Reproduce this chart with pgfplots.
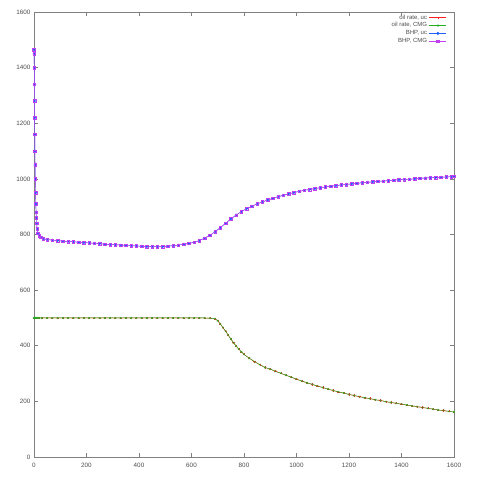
\documentclass[border=0pt]{standalone}
\usepackage{pgfplots}
\usepackage{pgfplotstable}
\usepackage{fontspec}
\setmainfont{Liberation Sans}
\pgfplotsset{compat=1.18}
\definecolor{gred}{HTML}{FF2020}
\definecolor{ggreen}{HTML}{20B020}
\definecolor{gblue}{HTML}{2060FF}
\definecolor{gmag}{HTML}{C040F0}
\definecolor{frame}{HTML}{808080}
\pgfplotstableread{
x y
0 1465
0.5 1450
1 1400
1.5 1340
2 1280
2.5 1220
3 1160
3.5 1100
4 1050
5 1000
6 950
7 910
8 880
9 860
10 840
12 820
15 805
20 795
25 790
35 785
50 782
70 780
90 778
110 776
130 775
150 774
170 772
190 771
210 770
230 768
250 767
270 765
290 764
310 763
330 762
350 761
370 760
390 759
410 758
430 757
450 757
470 756
490 757
510 758
530 760
550 762
570 765
590 768
610 772
630 778
650 787
670 797
690 810
710 825
730 840
750 856
770 870
790 882
810 893
830 902
850 910
870 917
890 924
910 930
930 936
950 941
970 946
990 951
1010 955
1030 959
1050 962
1070 965
1090 968
1110 971
1130 973
1150 976
1170 978
1190 980
1210 982
1230 984
1250 986
1270 988
1290 989
1310 991
1330 992
1350 994
1370 995
1390 997
1410 998
1430 999
1450 1000
1470 1002
1490 1003
1510 1004
1530 1005
1550 1006
1570 1007
1590 1008
1600 1009
}\bhp
\pgfplotstableread{
x y
0 500
1 500
2 500
3 500
5 500
7 500
10 500
15 500
20 500
30 500
50 500
70 500
90 500
110 500
130 500
150 500
170 500
190 500
210 500
230 500
250 500
270 500
290 500
310 500
330 500
350 500
370 500
390 500
410 500
430 500
450 500
470 500
490 500
510 500
530 500
550 500
570 500
590 500
610 500
630 500
650 500
670 499
690 497
700 490
710 478
720 465
730 452
740 438
750 424
760 411
770 399
780 388
790 378
800 369
820 355
840 343
860 332
880 322
900 316
920 308
940 301
960 294
980 287
1000 280
1020 273
1040 267
1060 261
1080 255
1100 250
1120 244
1140 239
1160 234
1180 230
1200 225
1220 221
1240 217
1260 213
1280 210
1300 206
1320 203
1340 199
1360 196
1380 193
1400 190
1420 187
1440 184
1460 181
1480 178
1500 175
1520 172
1540 169
1560 167
1580 164
1600 162
}\oil
\begin{document}
\begin{tikzpicture}
\begin{axis}[name=ax,
  scale only axis, width=420pt, height=445pt,
  xmin=0, xmax=1600, ymin=0, ymax=1600,
  xtick={0,200,...,1600}, ytick={0,200,...,1600},
  tick align=inside, major tick length=4pt,
  axis line style={frame, line width=0.5pt},
  every tick/.style={frame, line width=0.5pt},
  tick label style={font=\fontsize{6.3}{7}\selectfont, text=black!70},
  xticklabel style={yshift=-2.5pt},
  /pgf/number format/assume math mode=true,
  /pgf/number format/1000 sep={},
  scaled ticks=false,
  legend style={draw=none, fill=none, at={(rel axis cs:1,1)}, anchor=north east,
    xshift=-6pt, yshift=0.5pt, font=\fontsize{6}{6.5}\selectfont, text=black!70,
    row sep=-1.9pt, inner sep=1pt},
  legend cell align=right, legend plot pos=right,
  legend image post style={line width=0.7pt},
  every axis plot/.append style={line width=0.45pt, mark size=1.1pt},
]
\addplot[gred, mark=+] table {\oil};
\addlegendentry{oil rate, uc}
\addplot[ggreen, mark=x] table {\oil};
\addlegendentry{oil rate, CMG}
\addplot[gblue, mark=*] table {\bhp};
\addlegendentry{BHP, uc}
\addplot[gmag, mark=square, mark size=1.3pt] table {\bhp};
\addlegendentry{BHP, CMG}
\end{axis}
\path ([shift={(-34pt,-23pt)}]ax.south west) rectangle ([shift={(26pt,12pt)}]ax.north east);
\end{tikzpicture}
\end{document}
